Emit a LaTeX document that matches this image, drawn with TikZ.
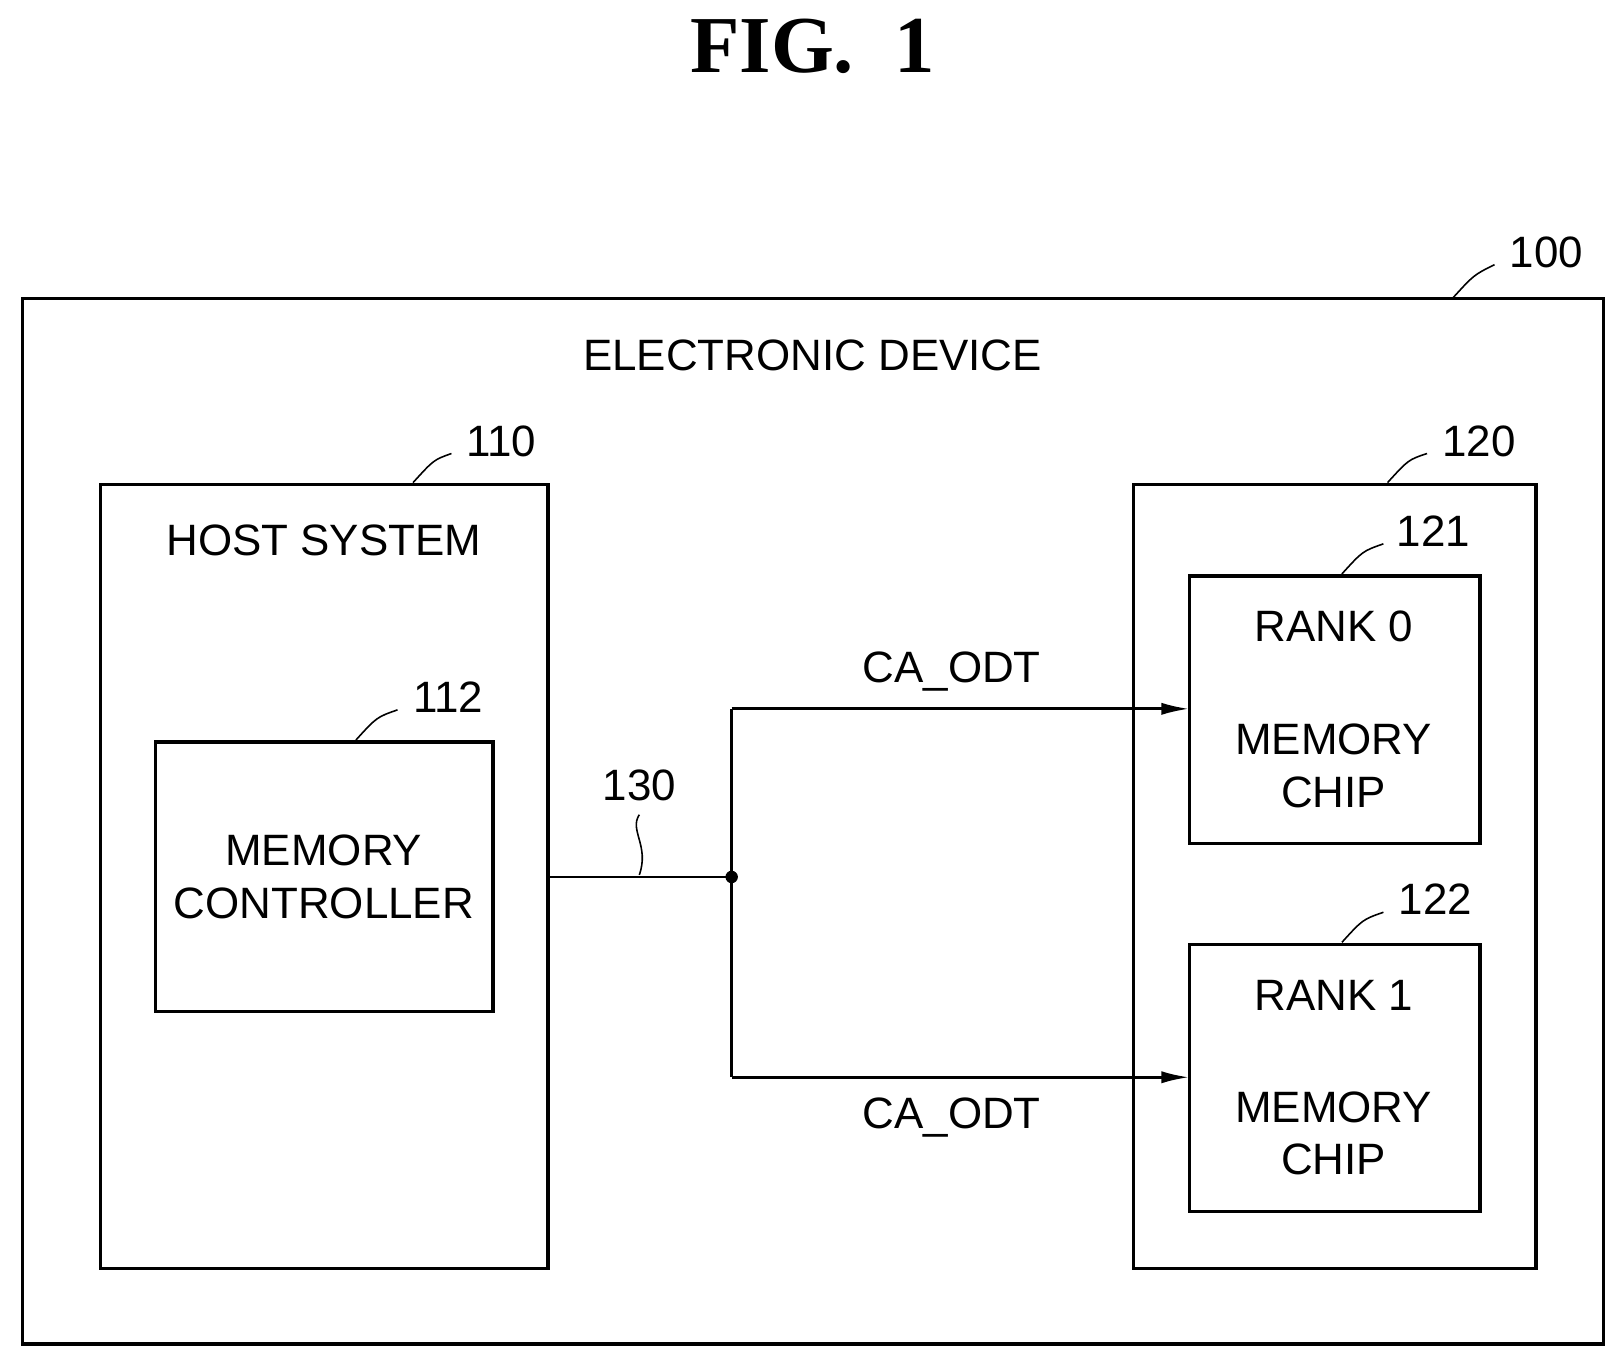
\documentclass[tikz,border=0pt]{standalone}
\usepackage{fontspec}
\setmainfont{Liberation Sans}
\newfontfamily\figfont{Liberation Serif}
\usetikzlibrary{arrows.meta}
\tikzset{
  blk/.style={draw,line width=1.8pt},
  txt/.style={font=\fontsize{25}{30}\selectfont,align=center,inner sep=0pt},
  lead/.style={line width=0.9pt},
  sig/.style={line width=1.6pt}
}
\begin{document}
\begin{tikzpicture}[x=0.02076cm,y=-0.02076cm]
\useasboundingbox (0,0) rectangle (1560,1311);
\node[font=\figfont\bfseries\fontsize{46}{50}\selectfont] (fig) at (783,45) {FIG.\ \ 1};
% boxes
\draw[blk] (22,288) rectangle (1545,1295);
\draw[blk] (97,467) rectangle (528,1222);
\draw[blk] (150,715) rectangle (475,975);
\draw[blk] (1092,467) rectangle (1480,1222);
\draw[blk] (1146,555) rectangle (1426,813);
\draw[blk] (1146,910) rectangle (1426,1167);
\node[txt] (dev) at (783,342) {ELECTRONIC DEVICE};
\node[txt] (host) at (312,521) {HOST SYSTEM};
\node[txt] (mc) at (312,845) {MEMORY\\CONTROLLER};
\node[txt] (r0) at (1285,604) {RANK 0};
\node[txt] (c0) at (1285,738) {MEMORY\\CHIP};
\node[txt] (r1) at (1285,959) {RANK 1};
\node[txt] (c1) at (1285,1092) {MEMORY\\CHIP};
% bus
\coordinate (hout) at (528,845);
\coordinate (jn) at (705,845);
\coordinate (up) at (705,683);
\coordinate (dn) at (705,1038);
\coordinate (in0) at (1146,683);
\coordinate (in1) at (1146,1038);
\draw[sig] (hout) -- (jn);
\fill (jn) circle (6);
\draw[sig] (up) -- (dn);
\draw[sig,-{Latex[length=16pt,width=7pt]}] (up) -- (in0);
\draw[sig,-{Latex[length=16pt,width=7pt]}] (dn) -- (in1);
\node[txt] (ca0) at (917,647) {CA\_ODT};
\node[txt] (ca1) at (917,1077) {CA\_ODT};
% reference numerals
\node[txt] (n130) at (616,757) {130};
\draw[lead] (616,785) .. controls (606,800) and (626,815) .. (616,843);
\node[txt] (n100) at (1490,243) {100};
\draw[lead] (1400,287) .. controls (1420,265) .. (1440,255);
\node[txt] (n110) at (483,425) {110};
\draw[lead] (398,465) .. controls (418,443) .. (435,437);
\node[txt] (n112) at (432,672) {112};
\draw[lead] (343,713) .. controls (363,691) .. (383,684);
\node[txt] (n120) at (1425,425) {120};
\draw[lead] (1337,465) .. controls (1357,443) .. (1375,437);
\node[txt] (n121) at (1381,512) {121};
\draw[lead] (1293,553) .. controls (1313,531) .. (1333,524);
\node[txt] (n122) at (1383,866) {122};
\draw[lead] (1293,908) .. controls (1313,886) .. (1333,879);
\end{tikzpicture}
\end{document}
